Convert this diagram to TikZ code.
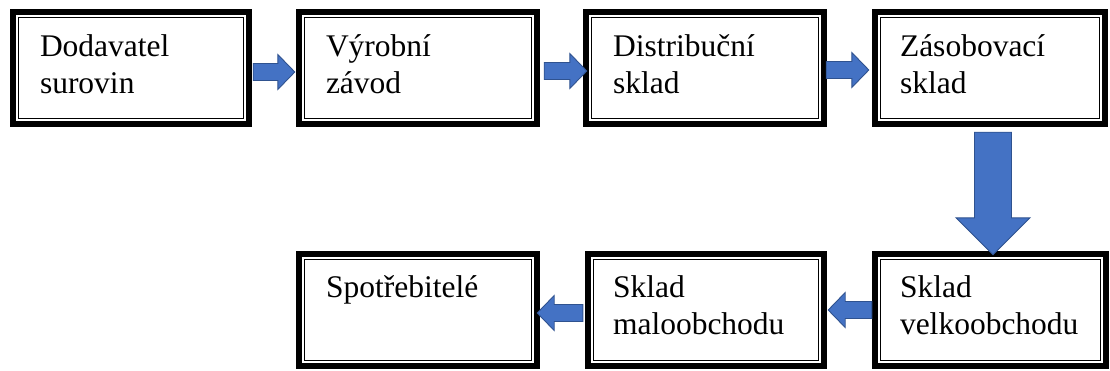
\documentclass[tikz,border=0pt]{standalone}
\usepackage{fontspec}
\setmainfont{Liberation Serif}
\usetikzlibrary{calc}
\definecolor{arrfill}{HTML}{4472C4}
\definecolor{arrline}{HTML}{2F528F}
\tikzset{
  boxnode/.style={rectangle, draw=none, inner sep=0pt, minimum height=118pt},
  txt/.style={anchor=base west, inner sep=0pt, font=\fontsize{31.5}{37}\selectfont},
  outerline/.style={draw=black, line width=6pt, line join=miter},
  innerline/.style={draw=black, line width=1.2pt, line join=miter},
  arr/.style={fill=arrfill, draw=arrline, line width=0.9pt, line join=miter}
}
\newcommand{\rarr}[2]{%
  \filldraw[arr] let \p1=(#1), \p2=(#2) in
    (\x1,\y1+8.5pt) -- (\x2-17pt,\y1+8.5pt) -- (\x2-17pt,\y1+17.5pt) -- (\x2,\y1)
    -- (\x2-17pt,\y1-17.5pt) -- (\x2-17pt,\y1-8.5pt) -- (\x1,\y1-8.5pt) -- cycle;}
\newcommand{\larr}[2]{%
  \filldraw[arr] let \p1=(#1), \p2=(#2) in
    (\x1,\y1+8.5pt) -- (\x2+17pt,\y1+8.5pt) -- (\x2+17pt,\y1+17.5pt) -- (\x2,\y1)
    -- (\x2+17pt,\y1-17.5pt) -- (\x2+17pt,\y1-8.5pt) -- (\x1,\y1-8.5pt) -- cycle;}
\begin{document}
\begin{tikzpicture}[x=1pt,y=-1pt]
\useasboundingbox (0,0) rectangle (1110,370);
% boxes
\node[boxnode, minimum width=242pt] (b1) at (131,68) {};
\node[boxnode, minimum width=244pt] (b2) at (418,68) {};
\node[boxnode, minimum width=244pt] (b3) at (705,68) {};
\node[boxnode, minimum width=236pt] (b4) at (990,68) {};
\node[boxnode, minimum width=244pt] (b5) at (418,310) {};
\node[boxnode, minimum width=242pt] (b6) at (706,310) {};
\node[boxnode, minimum width=237pt] (b7) at (990.5,310) {};
\foreach \n in {b1,b2,b3,b4,b5,b6,b7}{
  \draw[outerline] ([xshift=3pt,yshift=-3pt]\n.north west) rectangle ([xshift=-3pt,yshift=3pt]\n.south east);
  \draw[innerline] ([xshift=9pt,yshift=-9pt]\n.north west) rectangle ([xshift=-9pt,yshift=9pt]\n.south east);
}
% texts
\node[txt] (t1) at ($(b1.north west)+(30,48)$) {\begin{tabular}[t]{@{}l@{}}Dodavatel\\surovin\end{tabular}};
\node[txt] (t2) at ($(b2.north west)+(30,48)$) {\begin{tabular}[t]{@{}l@{}}Výrobní\\závod\end{tabular}};
\node[txt] (t3) at ($(b3.north west)+(30,48)$) {\begin{tabular}[t]{@{}l@{}}Distribuční\\sklad\end{tabular}};
\node[txt] (t4) at ($(b4.north west)+(28,48)$) {\begin{tabular}[t]{@{}l@{}}Zásobovací\\sklad\end{tabular}};
\node[txt] (t5) at ($(b5.north west)+(30,47)$) {\begin{tabular}[t]{@{}l@{}}Spotřebitelé\end{tabular}};
\node[txt] (t6) at ($(b6.north west)+(28,47)$) {\begin{tabular}[t]{@{}l@{}}Sklad\\maloobchodu\end{tabular}};
\node[txt] (t7) at ($(b7.north west)+(28,47)$) {\begin{tabular}[t]{@{}l@{}}Sklad\\velkoobchodu\end{tabular}};
% horizontal arrows
\rarr{$(b1.east)+(1,4)$}{$(b2.west)+(-1,4)$}
\rarr{$(b2.east)+(4,3)$}{$(b3.west)+(4,3)$}
\rarr{$(b3.east)+(-1,2)$}{$(b4.west)+(-3,2)$}
\larr{$(b7.west)+(0,0)$}{$(b6.east)+(1,0)$}
\larr{$(b6.west)+(-2,3)$}{$(b5.east)+(-3,3)$}
% vertical arrow
\filldraw[arr] let \p1=($(b4.south)+(3,5)$), \p2=($(b7.north)+(3,4)$) in
  (\x1-18.5pt,\y1) -- (\x1+18.5pt,\y1) -- (\x1+18.5pt,\y2+37pt) -- (\x1+37pt,\y2+37pt)
  -- (\x1,\y2) -- (\x1-37pt,\y2+37pt) -- (\x1-18.5pt,\y2+37pt) -- cycle;
\end{tikzpicture}
\end{document}
